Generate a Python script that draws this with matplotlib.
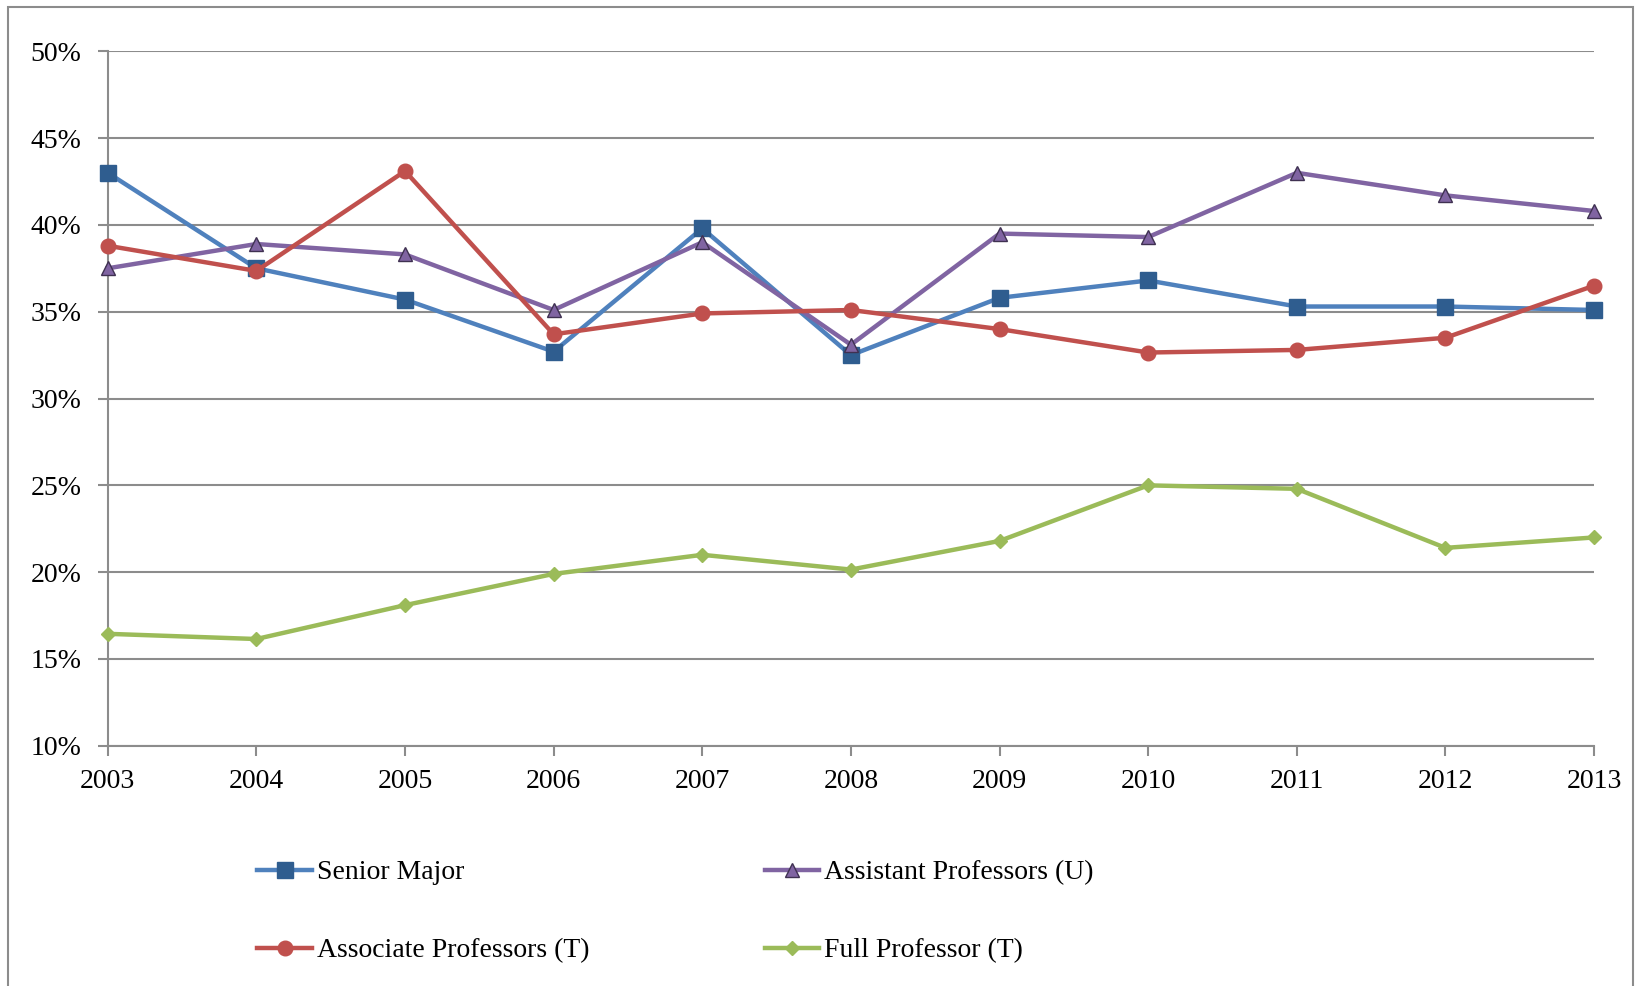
import matplotlib.pyplot as plt
from matplotlib.patches import Rectangle
from matplotlib.ticker import FuncFormatter

years = [2003, 2004, 2005, 2006, 2007, 2008, 2009, 2010, 2011, 2012, 2013]
senior_major = [43.0, 37.5, 35.7, 32.7, 39.8, 32.5, 35.8, 36.8, 35.3, 35.3, 35.1]
assistant_prof = [37.5, 38.9, 38.3, 35.1, 39.0, 33.1, 39.5, 39.3, 43.0, 41.7, 40.8]
associate_prof = [38.8, 37.35, 43.1, 33.7, 34.9, 35.1, 34.0, 32.65, 32.8, 33.5, 36.5]
full_prof = [16.45, 16.15, 18.1, 19.9, 21.0, 20.15, 21.8, 25.0, 24.8, 21.4, 22.0]

plt.rcParams['font.family'] = ['Liberation Serif', 'DejaVu Serif']

fig = plt.figure(figsize=(16.4, 9.86), dpi=100)
ax = fig.add_axes([0.0657, 0.2436, 0.9063, 0.7044])

# outer frame like the spreadsheet chart border
fig.patches.append(Rectangle((0.005, -0.01), 0.991, 1.003, transform=fig.transFigure,
                             fill=False, edgecolor='#8c8c8c', linewidth=1.5))

l1, = ax.plot(years, senior_major, color='#4F81BD', lw=3.2, marker='s', ms=11,
              mfc='#2F5D8F', mec='#2F5D8F', label='Senior Major', zorder=3, clip_on=False)
l2, = ax.plot(years, assistant_prof, color='#8064A2', lw=3.2, marker='^', ms=9.5,
              mfc='#8064A2', mec='#3F3151', mew=1, label='Assistant Professors (U)',
              zorder=3, clip_on=False)
l3, = ax.plot(years, associate_prof, color='#C0504D', lw=3.2, marker='o', ms=10.5,
              mfc='#C0504D', mec='#C0504D', label='Associate Professors (T)',
              zorder=3, clip_on=False)
l4, = ax.plot(years, full_prof, color='#9BBB59', lw=3.2, marker='D', ms=7.5,
              mfc='#9BBB59', mec='#9BBB59', label='Full Professor (T)',
              zorder=3, clip_on=False)

ax.set_xlim(2003, 2013)
ax.set_ylim(10, 50)
ax.set_xticks(years)
ax.set_yticks(range(10, 51, 5))
ax.yaxis.set_major_formatter(FuncFormatter(lambda v, p: f"{v:.0f}%"))
ax.grid(axis='y', color='#8c8c8c', lw=1.5)
ax.set_axisbelow(True)
for s in ['top', 'right']:
    ax.spines[s].set_visible(False)
for s in ['left', 'bottom']:
    ax.spines[s].set_color('#8c8c8c')
    ax.spines[s].set_linewidth(1.5)
ax.tick_params(axis='both', colors='#8c8c8c', width=1.5, length=7, labelsize=20,
               labelcolor='black')
ax.tick_params(axis='x', pad=10)
ax.tick_params(axis='y', pad=12)

fig.legend([l1, l3, l2, l4],
           [l1.get_label(), l3.get_label(), l2.get_label(), l4.get_label()],
           ncol=2, loc='upper left', bbox_to_anchor=(0.157, 0.128),
           frameon=False, fontsize=20, handlelength=1.95, handletextpad=0.2,
           labelspacing=1.9, columnspacing=6.3, borderaxespad=0, borderpad=0)

plt.savefig('out.png', dpi=100)
